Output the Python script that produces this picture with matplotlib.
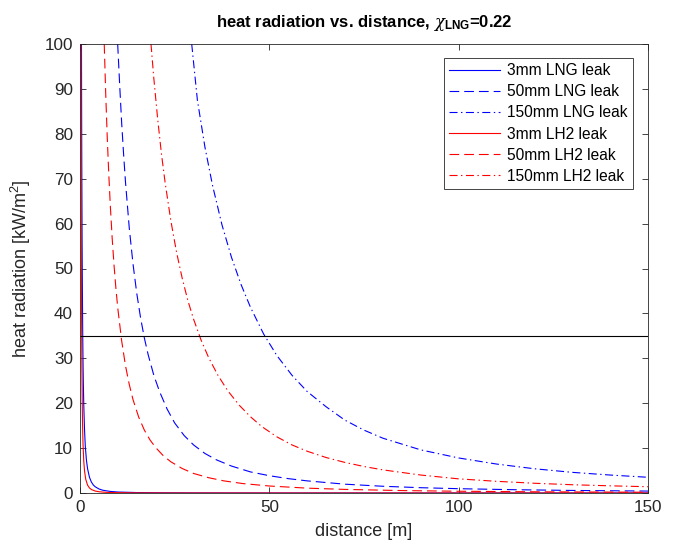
import matplotlib
matplotlib.use("Agg")
import matplotlib.pyplot as plt

# ---- data ----
d_lng3 = [0.39, 0.42, 0.46, 0.5, 0.55, 0.6, 0.7, 0.8, 0.9, 1.0, 1.2, 1.4, 1.7, 2.0, 2.5, 3.0, 3.5, 4.0, 5.0, 6.0, 8.0, 10.0, 15.0, 20.0, 30.0, 50.0, 100.0, 150.0]
q_lng3 = [100, 88, 76, 67, 57, 49, 37, 29, 23.5, 19.5, 14, 10.4, 7.3, 5.4, 3.5, 2.45, 1.8, 1.4, 0.9, 0.62, 0.35, 0.22, 0.1, 0.056, 0.025, 0.009, 0.0022, 0.001]

d_lng50 = [9.95, 10.5, 11, 11.5, 12, 13, 14, 15, 16, 17, 18, 19.5, 21, 23, 25, 27.5, 30, 33, 36, 40, 45, 50, 55, 60, 70, 80, 90, 100, 115, 130, 150]
q_lng50 = [100, 90.5, 82.5, 75.6, 69.4, 59.1, 51.0, 44.4, 39.0, 34.5, 30.8, 26.2, 22.6, 18.7, 15.6, 12.8, 10.7, 8.8, 7.4, 6.0, 4.7, 3.85, 3.2, 2.7, 1.96, 1.5, 1.18, 0.96, 0.73, 0.57, 0.43]

d_lng150 = [29.5, 31, 33, 35, 37.5, 40, 42.5, 45, 48.5, 52, 56, 60, 65, 70, 75, 80, 90, 100, 110, 120, 130, 140, 150]
q_lng150 = [100, 87.5, 77.0, 68.5, 59.7, 52.5, 46.5, 41.4, 35.4, 30.6, 26.2, 22.6, 19.2, 16.2, 14.0, 12.2, 9.6, 7.8, 6.45, 5.4, 4.6, 4.0, 3.5]

d_lh3 = [0.265, 0.29, 0.32, 0.35, 0.4, 0.45, 0.5, 0.6, 0.7, 0.8, 1.0, 1.2, 1.5, 2.0, 2.5, 3.0, 4.0, 5.0, 7.0, 10.0, 15.0, 25.0, 50.0, 100.0, 150.0]
q_lh3 = [100, 83, 68, 57, 43.8, 34.6, 28, 19.4, 14.3, 10.9, 7.0, 4.9, 3.1, 1.75, 1.12, 0.78, 0.44, 0.28, 0.14, 0.07, 0.031, 0.011, 0.0028, 0.0007, 0.0003]

d_lh50 = [6.4, 6.8, 7.2, 7.6, 8, 8.5, 9, 9.5, 10, 11, 12, 13, 14, 15.5, 17, 18.5, 20, 22, 24, 27, 30, 34, 38, 43, 50, 60, 70, 85, 100, 120, 150]
q_lh50 = [100, 88.7, 79.1, 71.0, 64.1, 56.7, 50.6, 45.4, 41.0, 33.9, 28.4, 24.2, 20.8, 16.9, 14.0, 11.8, 10.1, 8.3, 6.95, 5.45, 4.35, 3.4, 2.7, 2.1, 1.56, 1.08, 0.8, 0.54, 0.39, 0.27, 0.17]

d_lh150 = [18.75, 19.5, 20.5, 21.5, 22.5, 24, 25.5, 27, 28.5, 30, 32, 34, 36.5, 39, 42, 45, 48, 52, 56, 60, 65, 70, 75, 80, 90, 100, 110, 120, 130, 140, 150]
q_lh150 = [100, 92.3, 83.4, 75.6, 69.0, 60.6, 53.6, 47.8, 42.8, 38.7, 34.0, 30.1, 26.1, 22.8, 19.6, 17.0, 14.8, 12.5, 10.7, 9.3, 7.9, 6.8, 5.9, 5.15, 4.0, 3.15, 2.6, 2.17, 1.84, 1.6, 1.4]

threshold = 35
labels = ["3mm LNG leak", "50mm LNG leak", "150mm LNG leak",
          "3mm LH2 leak", "50mm LH2 leak", "150mm LH2 leak"]

plt.rcParams['font.family'] = ['Liberation Sans', 'DejaVu Sans']
plt.rcParams['mathtext.fontset'] = 'custom'
plt.rcParams['mathtext.rm'] = 'Liberation Sans'
plt.rcParams['mathtext.bf'] = 'Liberation Sans:bold'
plt.rcParams['mathtext.it'] = 'DejaVu Serif:italic'
plt.rcParams['lines.scale_dashes'] = False

axc = (0.15, 0.15, 0.15)
fig = plt.figure(figsize=(6.77, 5.51), dpi=100)
ax = fig.add_axes([80/677, 1-493/551, 568/677, 449/551])

lw = 0.8
dash = (7.0, 3.6)
dashdot = (5.8, 2.5, 1.0, 2.5)
ax.plot(d_lng3, q_lng3, color='blue', lw=lw, label=labels[0])
ax.plot(d_lng50, q_lng50, color='blue', lw=lw, dashes=dash, label=labels[1])
ax.plot(d_lng150, q_lng150, color='blue', lw=lw, dashes=dashdot, label=labels[2])
ax.plot(d_lh3, q_lh3, color='red', lw=lw, label=labels[3])
ax.plot(d_lh50, q_lh50, color='red', lw=lw, dashes=dash, label=labels[4])
ax.plot(d_lh150, q_lh150, color='red', lw=lw, dashes=dashdot, label=labels[5])
ax.axhline(threshold, color='black', lw=lw)

ax.set_xlim(0, 150)
ax.set_ylim(0, 100)
ax.set_xticks([0, 50, 100, 150])
ax.set_yticks(range(0, 101, 10))
ax.tick_params(direction='in', length=4, width=0.6, colors=axc, labelsize=12.3,
               top=True, right=True, pad=5)
for s in ax.spines.values():
    s.set_color(axc)
    s.set_linewidth(0.6)

ax.set_xlabel("distance [m]", fontsize=13, color=axc, labelpad=6)
ax.set_ylabel("heat radiation [kW/m$^2$]", fontsize=13, color=axc, labelpad=8)
ax.set_title(r"heat radiation vs. distance, $\chi_{\mathbf{LNG}}$=0.22",
             fontsize=12, fontweight='bold', pad=12)

leg = ax.legend(loc='upper right', fontsize=11.2, frameon=True, fancybox=False,
                edgecolor=axc, framealpha=1, borderpad=0.35, labelspacing=0.39,
                handlelength=3.3, handletextpad=0.45, borderaxespad=0,
                bbox_to_anchor=(0.974, 0.969))
leg.get_frame().set_linewidth(0.6)

fig.savefig("out.png", dpi=100)
